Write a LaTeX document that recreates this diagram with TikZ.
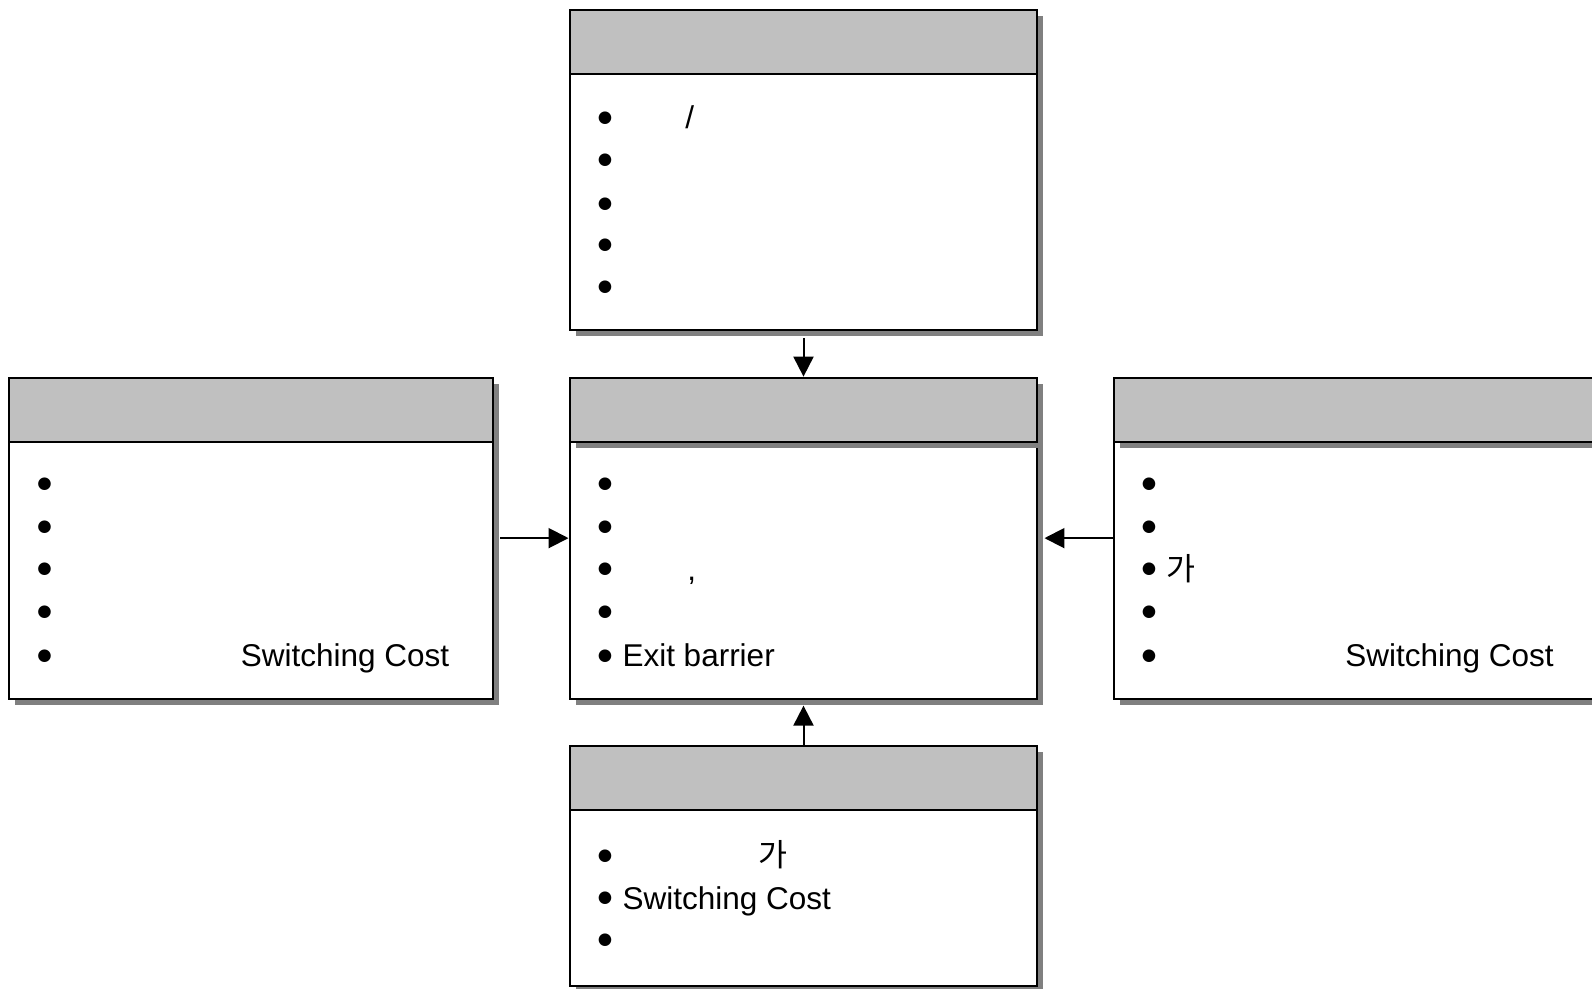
\documentclass[tikz,border=0pt]{standalone}
\usepackage{fontspec}
\setmainfont{Liberation Sans}
\newfontfamily\krfont{Noto Sans CJK KR}
\newfontfamily\symfont{DejaVu Sans}
\usetikzlibrary{shadows,arrows.meta}
\definecolor{hdrgray}{RGB}{192,192,192}
\definecolor{shadgray}{RGB}{128,128,128}
\begin{document}
\begin{tikzpicture}[x=1.0152pt,y=-1.0152pt,
  shad/.style={drop shadow={shadow xshift=6pt,shadow yshift=-6pt,fill=shadgray,opacity=1}},
  bodybox/.style={draw=black,line width=2pt,fill=white,anchor=north west,inner sep=0,shad},
  hdrbox/.style={draw=black,line width=2pt,fill=hdrgray,anchor=north west,inner sep=0},
  hdrshad/.style={hdrbox,shad},
  txt/.style={anchor=base west,inner sep=0,font=\fontsize{31.5}{37}\selectfont},
  bul/.style={anchor=center,inner sep=0,font=\fontsize{16.5}{16.5}\selectfont\symfont},
  kr/.style={txt,font=\fontsize{31.5}{37}\selectfont\krfont},
  conn/.style={line width=2pt,-{Triangle[length=20pt,width=20pt]}}]
\useasboundingbox (0,0) rectangle (1568.2,974.2);
\clip (0,0) rectangle (1568.2,974.2);
% top box
\node[bodybox,minimum width=468pt,minimum height=320pt] (topbody) at (560,9) {};
\node[hdrbox,minimum width=468pt,minimum height=64pt] (tophdr) at (560,9) {};
% center box
\node[bodybox,minimum width=468pt,minimum height=321pt] (cenbody) at (560,371) {};
\node[hdrshad,minimum width=468pt,minimum height=64pt] (cenhdr) at (560,371) {};
% left box
\node[bodybox,minimum width=484pt,minimum height=321pt] (leftbody) at (8,371) {};
\node[hdrbox,minimum width=484pt,minimum height=64pt] (lefthdr) at (8,371) {};
% right box
\node[bodybox,minimum width=520pt,minimum height=321pt] (rightbody) at (1096,371) {};
\node[hdrshad,minimum width=520pt,minimum height=64pt] (righthdr) at (1096,371) {};
% bottom box
\node[bodybox,minimum width=468pt,minimum height=240pt] (botbody) at (560,734) {};
\node[hdrbox,minimum width=468pt,minimum height=64pt] (bothdr) at (560,734) {};
% connectors
\draw[conn,shorten <=7pt] (topbody.south) -- (cenhdr.north);
\draw[conn,shorten <=6pt] (leftbody.east) -- (leftbody.east -| cenbody.west);
\draw[conn,shorten >=6pt] (rightbody.west) -- (rightbody.west -| cenbody.east);
\draw[conn,shorten >=6pt] (bothdr.north) -- (cenbody.south);
% top texts
\foreach \b [count=\i] in {116,158,201,242,283} \node[bul] (tb\i) at (596,\b) {●};
\node[txt] (tt1) at (675,127) {/};
% center texts
\foreach \b [count=\i] in {477,519,561,603,646} \node[bul] (cb\i) at (596,\b) {●};
\node[txt] (ct3) at (677,572) {,};
\node[txt] (ct5) at (613,657) {Exit barrier};
% left texts
\foreach \b [count=\i] in {477,519,561,603,646} \node[bul] (lb\i) at (44,\b) {●};
\node[txt] (lt5) at (237,657) {Switching Cost};
% right texts
\foreach \b [count=\i] in {477,519,561,603,646} \node[bul] (rb\i) at (1132,\b) {●};
\node[kr] (rt3) at (1149,572) {가};
\node[txt] (rt5) at (1325,657) {Switching Cost};
% bottom texts
\foreach \b [count=\i] in {843,885,926} \node[bul] (bb\i) at (596,\b) {●};
\node[kr] (bt1) at (747,854) {가};
\node[txt] (bt2) at (613,896) {Switching Cost};
\end{tikzpicture}
\end{document}
